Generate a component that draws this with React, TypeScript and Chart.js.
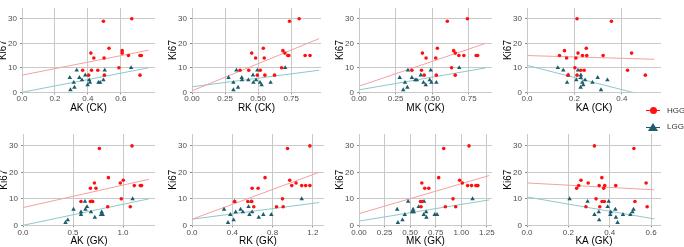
import React, { useEffect, useRef } from "react";
import { Chart, registerables } from "chart.js";
Chart.register(...registerables);

const FONT = "'Liberation Sans', Arial, sans-serif";

// ---------- data (Ki67 vs. kinetic parameter) ----------
const xTitles = ["AK (CK)", "RK (CK)", "MK (CK)", "KA (CK)", "AK (GK)", "RK (GK)", "MK (GK)", "KA (GK)"];
const yTicks = [0, 10, 20, 30];
const legendLabels = ["HGG", "LGG"];

const akCkHggX = [0.368, 0.404, 0.422, 0.418, 0.436, 0.46, 0.494, 0.498, 0.5, 0.528, 0.588, 0.608, 0.608, 0.646, 0.666, 0.716, 0.724, 0.716];
const akCkHggY = [9, 7, 9, 16, 14, 9, 29, 14, 7, 18, 10, 17, 16, 15, 30, 15, 15, 7];
const akCkLggX = [0.29, 0.294, 0.314, 0.318, 0.332, 0.348, 0.364, 0.384, 0.398, 0.408, 0.412, 0.464, 0.474, 0.494, 0.502, 0.662];
const akCkLggY = [6, 1, 4, 2, 9, 6, 5, 7, 3, 5, 4, 4, 4, 5, 9, 10];

const rkCkHggX = [0.81, 0.737, 0.539, 0.451, 0.481, 0.546, 0.363, 0.429, 0.494, 0.516, 0.551, 0.624, 0.677, 0.687, 0.702, 0.724, 0.732, 0.855, 0.892];
const rkCkHggY = [30, 29, 18, 16, 14, 14, 9, 9, 7, 9, 7, 7, 10, 17, 16, 15, 15, 15, 15];
const rkCkLggX = [0.276, 0.313, 0.313, 0.336, 0.348, 0.376, 0.378, 0.426, 0.461, 0.464, 0.484, 0.494, 0.514, 0.526, 0.594, 0.704];
const rkCkLggY = [6, 4, 1, 9, 2, 6, 5, 5, 7, 4, 5, 9, 4, 3, 4, 10];

const mkCkHggX = [0.74, 0.603, 0.535, 0.433, 0.458, 0.524, 0.646, 0.657, 0.682, 0.716, 0.8, 0.81, 0.632, 0.361, 0.427, 0.445, 0.528, 0.657];
const mkCkHggY = [30, 29, 18, 16, 14, 14, 17, 16, 15, 15, 15, 15, 10, 9, 9, 7, 7, 7];
const mkCkLggX = [0.278, 0.302, 0.314, 0.33, 0.334, 0.361, 0.384, 0.395, 0.422, 0.44, 0.456, 0.483, 0.49, 0.494, 0.528, 0.684];
const mkCkLggY = [6, 1, 4, 2, 9, 6, 5, 5, 7, 4, 3, 5, 9, 4, 4, 10];

const kaCkHggX = [0.211, 0.356, 0.25, 0.158, 0.215, 0.441, 0.137, 0.234, 0.252, 0.321, 0.167, 0.206, 0.202, 0.227, 0.241, 0.424, 0.173, 0.211, 0.499];
const kaCkHggY = [30, 29, 18, 17, 16, 16, 15, 15, 15, 15, 14, 14, 10, 9, 9, 9, 7, 7, 7];
const kaCkLggX = [0.13, 0.153, 0.174, 0.169, 0.208, 0.215, 0.227, 0.227, 0.233, 0.237, 0.226, 0.245, 0.276, 0.298, 0.312, 0.339];
const kaCkLggY = [10, 9, 7, 4, 5, 9, 7, 6, 4, 3, 2, 5, 4, 6, 1, 5];

const akGkHggX = [0.764, 1.09, 0.854, 0.714, 0.973, 1.003, 1.113, 1.173, 1.186, 0.674, 0.73, 0.58, 0.674, 0.697, 0.983, 0.847, 1.073];
const akGkHggY = [29, 30, 18, 16, 16, 17, 15, 15, 15, 14, 14, 9, 9, 9, 10, 7, 7];
const akGkLggX = [0.425, 0.448, 0.505, 0.58, 0.58, 0.62, 0.64, 0.624, 0.688, 0.68, 0.718, 0.78, 0.787, 0.797, 1.096];
const akGkLggY = [1, 2, 6, 5, 4, 9, 7, 6, 9, 5, 3, 4, 5, 4, 10];

const rkGkHggX = [1.17, 0.948, 0.725, 0.97, 1.033, 0.99, 1.089, 1.128, 1.17, 0.597, 0.656, 0.423, 0.554, 0.593, 0.898, 0.613, 0.839, 0.905];
const rkGkHggY = [30, 29, 18, 17, 16, 15, 15, 15, 15, 14, 14, 9, 9, 9, 10, 7, 7, 7];
const rkGkLggX = [0.318, 0.357, 0.38, 0.413, 0.423, 0.433, 0.482, 0.505, 0.561, 0.57, 0.587, 0.597, 0.662, 0.708, 0.787, 1.089];
const rkGkLggY = [6, 1, 4, 2, 9, 5, 6, 5, 7, 4, 9, 5, 3, 4, 4, 10];

const mkGkHggX = [1.075, 0.828, 0.779, 0.614, 0.984, 1.01, 1.062, 1.1, 1.143, 1.162, 0.643, 0.682, 0.601, 0.617, 0.919, 0.607, 0.844, 0.945];
const mkGkHggY = [30, 29, 18, 16, 17, 16, 15, 15, 15, 15, 14, 14, 9, 9, 10, 7, 7, 7];
const mkGkLggX = [0.373, 0.38, 0.425, 0.448, 0.48, 0.519, 0.529, 0.536, 0.584, 0.636, 0.633, 0.656, 0.659, 0.74, 0.763, 1.11];
const mkGkLggY = [6, 1, 2, 4, 9, 5, 6, 5, 7, 9, 4, 5, 3, 4, 4, 10];

const kaGkHggX = [0.326, 0.517, 0.362, 0.261, 0.296, 0.576, 0.25, 0.349, 0.376, 0.429, 0.24, 0.371, 0.334, 0.363, 0.374, 0.522, 0.285, 0.352, 0.581];
const kaGkHggY = [30, 29, 18, 17, 16, 16, 15, 15, 15, 15, 14, 14, 10, 9, 9, 9, 7, 7, 7];
const kaGkLggX = [0.206, 0.293, 0.395, 0.326, 0.347, 0.349, 0.39, 0.403, 0.405, 0.427, 0.43, 0.438, 0.464, 0.5, 0.51, 0.515];
const kaGkLggY = [10, 9, 9, 4, 5, 2, 7, 4, 5, 6, 3, 1, 4, 4, 5, 6];

// fitted regression lines: value at x = 0 and at x = lineEndX
const lineEndX = [0.768, 0.96, 0.865, 0.537, 1.26, 1.26, 1.273, 0.616];
const hggLineStart = [7.0, 0.6, 2.5, 15.0, 6.7, 2.3, 4.4, 16.0];
const hggLineEnd = [17.2, 21.9, 20.0, 13.5, 17.4, 20.0, 18.8, 13.4];
const lggLineStart = [0.0, 2.25, 1.0, 11.0, 0.0, 2.3, 1.6, 10.7];
const lggLineEnd = [10.0, 9.0, 9.95, -2.3, 10.0, 8.6, 9.6, 2.4];

// x tick labels of each panel
const xTicks = [
  [0, 0.2, 0.4, 0.6],
  [0, 0.25, 0.5, 0.75],
  [0, 0.25, 0.5, 0.75],
  [0, 0.2, 0.4],
  [0, 0.5, 1.0],
  [0, 0.4, 0.8, 1.2],
  [0, 0.25, 0.5, 0.75, 1.0, 1.25],
  [0, 0.2, 0.4, 0.6],
];
const xDecimals = [1, 2, 2, 1, 1, 1, 2, 1];
const xMaxes = [0.807, 0.975, 0.908, 0.565, 1.32, 1.31, 1.30, 0.648];

const series = [
  [akCkHggX, akCkHggY, akCkLggX, akCkLggY],
  [rkCkHggX, rkCkHggY, rkCkLggX, rkCkLggY],
  [mkCkHggX, mkCkHggY, mkCkLggX, mkCkLggY],
  [kaCkHggX, kaCkHggY, kaCkLggX, kaCkLggY],
  [akGkHggX, akGkHggY, akGkLggX, akGkLggY],
  [rkGkHggX, rkGkHggY, rkGkLggX, rkGkLggY],
  [mkGkHggX, mkGkHggY, mkGkLggX, mkGkLggY],
  [kaGkHggX, kaGkHggY, kaGkLggX, kaGkLggY],
];

// ---------- layout ----------
const RED = "#ff1010";
const RED_LINE = "#f5a0a0";
const TEAL = "#1b5d6c";
const TEAL_LINE = "#8fc8c9";
const GRID = "#c9c9c9";

const chartLefts = [22, 192.3, 359.3, 526.7, 23.3, 192, 359.3, 526.7];
const chartRights = [156, 322, 493, 661.7, 156, 325, 493, 661.7];
const rows = [
  { top: 1, bottom: 92.3, canvasTop: 0, canvasBottom: 117, titleCenter: 108.3, tickPad: 0 },
  { top: 134, bottom: 225.3, canvasTop: 120, canvasBottom: 250, titleCenter: 241.7, tickPad: 1 },
];
const Y_AXIS_W = 25;

function Panel({ i }: { i: number }) {
  const ref = useRef<HTMLCanvasElement>(null);
  const row = rows[i < 4 ? 0 : 1];
  const cLeft = chartLefts[i] - Y_AXIS_W;
  const cWidth = Math.ceil(chartRights[i] + 3 - cLeft);
  const cHeight = row.canvasBottom - row.canvasTop;

  useEffect(() => {
    const [hx, hy, lx, ly] = series[i];
    const toPts = (xs: number[], ys: number[]) => xs.map((x, k) => ({ x, y: ys[k] }));
    const chart = new Chart(ref.current as HTMLCanvasElement, {
      type: "scatter",
      data: {
        datasets: [
          {
            label: legendLabels[0],
            data: toPts(hx, hy),
            pointStyle: "circle",
            pointRadius: 1.8,
            backgroundColor: RED,
            borderColor: RED,
            borderWidth: 0,
          },
          {
            label: legendLabels[1],
            data: toPts(lx, ly),
            pointStyle: "triangle",
            pointRadius: 2.6,
            backgroundColor: TEAL,
            borderColor: TEAL,
            borderWidth: 0,
          },
          {
            type: "line",
            label: "HGG fit",
            data: [
              { x: 0, y: hggLineStart[i] },
              { x: lineEndX[i], y: hggLineEnd[i] },
            ],
            borderColor: RED_LINE,
            borderWidth: 1,
            pointRadius: 0,
            fill: false,
            clip: 0,
          } as any,
          {
            type: "line",
            label: "LGG fit",
            data: [
              { x: 0, y: lggLineStart[i] },
              { x: lineEndX[i], y: lggLineEnd[i] },
            ],
            borderColor: TEAL_LINE,
            borderWidth: 1,
            pointRadius: 0,
            fill: false,
            clip: 0,
          } as any,
        ],
      },
      options: {
        animation: false,
        responsive: false,
        devicePixelRatio: 1,
        events: [],
        layout: {
          padding: { left: 0, right: cWidth - (chartRights[i] - cLeft), top: row.top - row.canvasTop, bottom: 0 },
        },
        plugins: { legend: { display: false }, tooltip: { enabled: false } },
        scales: {
          x: {
            type: "linear",
            min: 0,
            max: xMaxes[i],
            border: { display: false },
            grid: { color: GRID, lineWidth: 1, drawTicks: true, tickLength: 2, tickColor: "#8a8a8a" },
            ticks: {
              autoSkip: false,
              maxRotation: 0,
              padding: row.tickPad,
              color: "#4d4d4d",
              font: { family: FONT, size: 8 },
              callback: (v: any) => Number(v).toFixed(xDecimals[i]),
            },
            afterBuildTicks: (s: any) => {
              s.ticks = xTicks[i].map((v) => ({ value: v }));
            },
            afterFit: (s: any) => {
              s.height = row.canvasBottom - row.bottom;
            },
            title: {
              display: true,
              text: xTitles[i],
              color: "#000",
              font: { family: FONT, size: 10, lineHeight: 1.2 },
              padding: { top: 0, bottom: row.canvasBottom - row.titleCenter - 6 },
            },
          },
          y: {
            type: "linear",
            min: 0,
            max: 34.5,
            border: { display: false },
            grid: { color: GRID, lineWidth: 1, drawTicks: true, tickLength: 2, tickColor: "#8a8a8a" },
            ticks: {
              autoSkip: false,
              padding: 3,
              color: "#4d4d4d",
              font: { family: FONT, size: 8 },
              callback: (v: any) => String(v),
            },
            afterBuildTicks: (s: any) => {
              s.ticks = yTicks.map((v) => ({ value: v }));
            },
            afterFit: (s: any) => {
              s.width = Y_AXIS_W;
            },
            title: {
              display: true,
              text: "Ki67",
              color: "#000",
              font: { family: FONT, size: 10, lineHeight: 1.2 },
              padding: { top: 0.5, bottom: 0 },
            },
          },
        },
      } as any,
    });
    return () => chart.destroy();
  }, [i]);

  return (
    <canvas
      ref={ref}
      width={cWidth}
      height={cHeight}
      style={{ position: "absolute", left: cLeft, top: row.canvasTop, width: cWidth, height: cHeight }}
    />
  );
}

function Legend() {
  const textStyle: React.CSSProperties = {
    position: "absolute",
    left: 667,
    fontFamily: FONT,
    fontSize: 8,
    color: "#333",
    lineHeight: "10px",
    whiteSpace: "nowrap",
  };
  return (
    <>
      <div style={{ position: "absolute", left: 646, top: 110, width: 14, height: 1.2, background: RED }} />
      <div style={{ position: "absolute", left: 649.5, top: 107.2, width: 7, height: 7, borderRadius: "50%", background: RED }} />
      <div style={{ ...textStyle, top: 105.7 }}>{legendLabels[0]}</div>
      <div style={{ position: "absolute", left: 646, top: 126.5, width: 14, height: 1.2, background: TEAL }} />
      <div
        style={{
          position: "absolute",
          left: 648,
          top: 122.5,
          width: 0,
          height: 0,
          borderLeft: "5px solid transparent",
          borderRight: "5px solid transparent",
          borderBottom: `8px solid ${TEAL}`,
        }}
      />
      <div style={{ ...textStyle, top: 121.7 }}>{legendLabels[1]}</div>
    </>
  );
}

export default function App() {
  return (
    <div
      style={{
        position: "fixed",
        left: 0,
        top: 0,
        width: 684,
        height: 247,
        overflow: "hidden",
        background: "#fff",
      }}
    >
      {xTitles.map((_, i) => (
        <Panel key={i} i={i} />
      ))}
      <Legend />
    </div>
  );
}
